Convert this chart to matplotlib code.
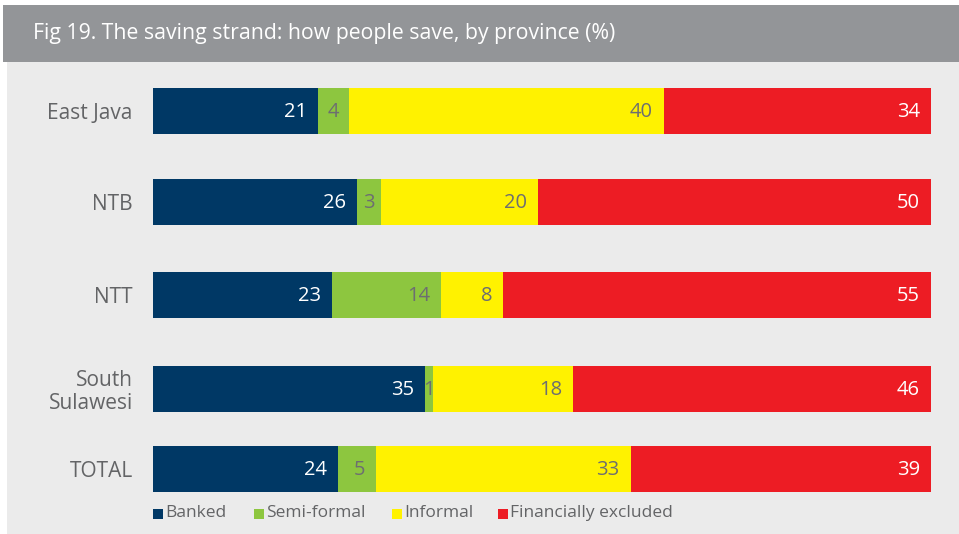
import matplotlib.pyplot as plt
from matplotlib.patches import Rectangle
import numpy as np

plt.rcParams['font.family'] = ['Open Sans', 'DejaVu Sans']

# data
provinces = ['East Java', 'NTB', 'NTT', 'South\nSulawesi', 'TOTAL']
series = ['Banked', 'Semi-formal', 'Informal', 'Financially excluded']
banked = [21, 26, 23, 35, 24]
semi_formal = [4, 3, 14, 1, 5]
informal = [40, 20, 8, 18, 33]
excluded = [34, 50, 55, 46, 39]

colors = ['#003865', '#8dc63f', '#fff200', '#ed1c24']
text_colors = ['white', '#6d6e71', '#6d6e71', 'white']
label_grey = '#636466'

W, H = 959, 534
fig = plt.figure(figsize=(W / 100, H / 100), dpi=100)
fig.patch.set_facecolor('white')

# background panel and title band
fig.patches.append(Rectangle((7 / W, 0), 1 - 7 / W, 1 - 62 / H, transform=fig.transFigure,
                             facecolor='#ebebeb', edgecolor='none', zorder=-2))
fig.patches.append(Rectangle((3 / W, 1 - 62 / H), 1 - 3 / W, 57 / H, transform=fig.transFigure,
                             facecolor='#939598', edgecolor='none', zorder=-1))
fig.text(33 / W, 1 - 34 / H, 'Fig 19. The saving strand: how people save, by province (%)',
         color='white', fontsize=15.3, va='center', ha='left')

# axes in pixel-like units for the vertical layout
ax = fig.add_axes([153 / W, 40 / H, (931 - 153) / W, (470 - 40) / H])
ax.set_facecolor('none')
ypos = [111, 202, 295, 389, 469]
ax.set_ylim(494, 64)

vals = np.array([banked, semi_formal, informal, excluded], dtype=float)
totals = vals.sum(axis=0)
shares = vals / totals * 100
left = np.zeros(len(provinces))
for i in range(len(series)):
    ax.barh(ypos, shares[i], left=left, height=46, color=colors[i],
            edgecolor='none', label=series[i])
    for j in range(len(provinces)):
        if shares[i][j] < 4.5:
            # narrow segment: centre the number
            ax.text(left[j] + shares[i][j] / 2, ypos[j] + 1, str(int(vals[i][j])),
                    ha='center', va='center', color=text_colors[i], fontsize=14.5)
        else:
            ax.text(left[j] + shares[i][j] - 1.4, ypos[j] + 1, str(int(vals[i][j])),
                    ha='right', va='center', color=text_colors[i], fontsize=14.5)
    left += shares[i]

ax.set_xlim(0, 100)
ax.set_yticks(ypos)
ax.set_yticklabels(provinces, fontsize=15, color=label_grey, linespacing=1.1)
ax.tick_params(axis='y', length=0, pad=14.5)
ax.set_xticks([])
for s in ax.spines.values():
    s.set_visible(False)

# legend drawn manually along the bottom
leg_x = [153, 254, 392, 498]
for x, c, name in zip(leg_x, colors, series):
    fig.patches.append(Rectangle((x / W, 1 - 519 / H), 10 / W, 10 / H,
                                 transform=fig.transFigure, facecolor=c, edgecolor='none'))
    fig.text((x + 12) / W, 1 - 513 / H, name, fontsize=12.5, color=label_grey,
             va='center', ha='left')

fig.savefig('out.png', dpi=100, facecolor=fig.get_facecolor())
